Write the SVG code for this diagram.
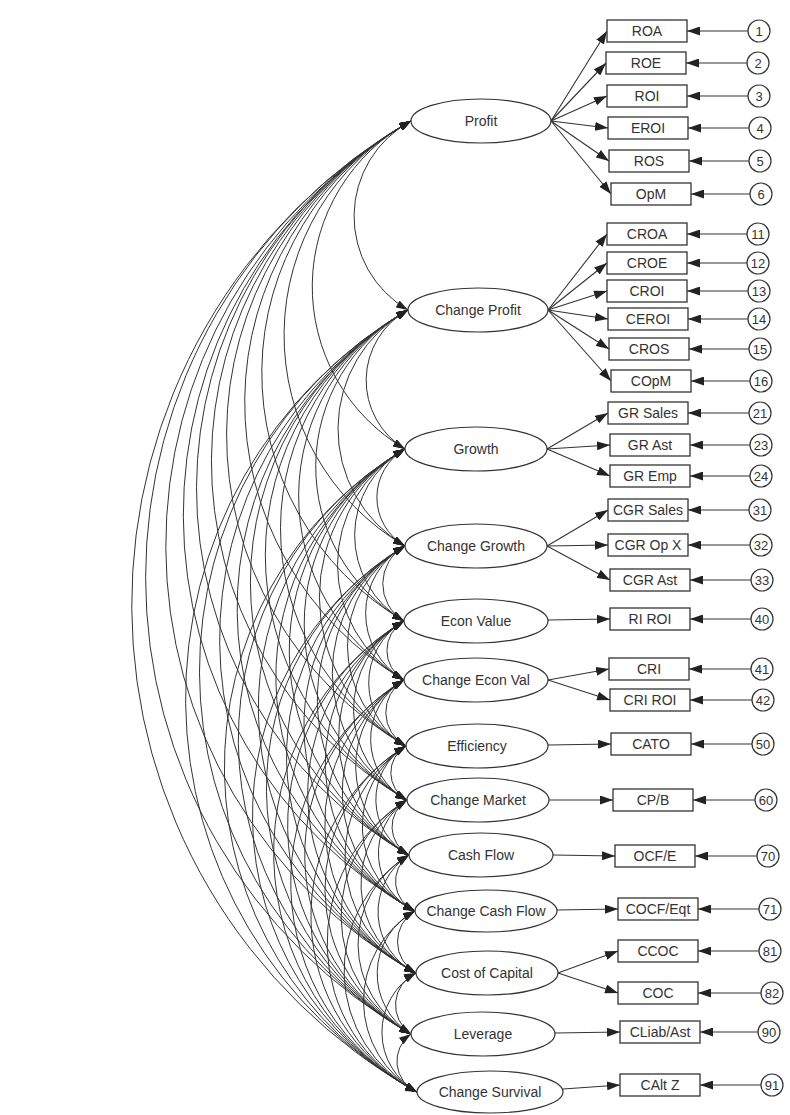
<svg xmlns="http://www.w3.org/2000/svg" width="790" height="1115" viewBox="0 0 790 1115">
<style>
.cov{fill:none;stroke:#333;stroke-width:1;marker-start:url(#ah);marker-end:url(#ah)}
.ld{fill:none;stroke:#333;stroke-width:1.1;marker-end:url(#am)}
.lat{fill:#fff;stroke:#333;stroke-width:1.2}
.obs{fill:#fff;stroke:#333;stroke-width:1.3}
.err{fill:#fff;stroke:#333;stroke-width:1.2}
text{font-family:"Liberation Sans",Arial,sans-serif;fill:#333;text-anchor:middle}
.t1{font-size:14px}
.t2{font-size:14px}
.t3{font-size:13px}
</style>
<defs>
<marker id="ah" viewBox="0 0 12 8" refX="12" refY="4" markerWidth="12" markerHeight="8" markerUnits="userSpaceOnUse" orient="auto-start-reverse"><path d="M0,0 L12,4 L0,8 z" fill="#222"/></marker>
<marker id="am" viewBox="0 0 13 9" refX="13" refY="4.5" markerWidth="13" markerHeight="9" markerUnits="userSpaceOnUse" orient="auto"><path d="M0,0 L13,4.5 L0,9 z" fill="#222"/></marker>
</defs>
<rect width="790" height="1115" fill="#fff"/>
<g id="connectors">
<g id="covariances">
<path class="cov" d="M411,121 A108.3,108.3 0 0 0 408,310"/>
<path class="cov" d="M411,121 A188.4,188.4 0 0 0 405,449"/>
<path class="cov" d="M411,121 A244.2,244.2 0 0 0 405,546"/>
<path class="cov" d="M411,121 A287.4,287.4 0 0 0 404,621"/>
<path class="cov" d="M411,121 A321.4,321.4 0 0 0 404,680"/>
<path class="cov" d="M411,121 A359.4,359.4 0 0 0 406,746"/>
<path class="cov" d="M411,121 A390.5,390.5 0 0 0 407,800"/>
<path class="cov" d="M411,121 A422.2,422.2 0 0 0 409,855"/>
<path class="cov" d="M411,121 A454.5,454.5 0 0 0 415,911"/>
<path class="cov" d="M411,121 A490.2,490.2 0 0 0 416,973"/>
<path class="cov" d="M411,121 A525.3,525.3 0 0 0 411,1034"/>
<path class="cov" d="M411,121 A558.7,558.7 0 0 0 417,1092"/>
<path class="cov" d="M408,310 A80.1,80.1 0 0 0 405,449"/>
<path class="cov" d="M408,310 A135.9,135.9 0 0 0 405,546"/>
<path class="cov" d="M408,310 A179.1,179.1 0 0 0 404,621"/>
<path class="cov" d="M408,310 A213.1,213.1 0 0 0 404,680"/>
<path class="cov" d="M408,310 A251.1,251.1 0 0 0 406,746"/>
<path class="cov" d="M408,310 A282.2,282.2 0 0 0 407,800"/>
<path class="cov" d="M408,310 A313.9,313.9 0 0 0 409,855"/>
<path class="cov" d="M408,310 A346.2,346.2 0 0 0 415,911"/>
<path class="cov" d="M408,310 A381.9,381.9 0 0 0 416,973"/>
<path class="cov" d="M408,310 A417.0,417.0 0 0 0 411,1034"/>
<path class="cov" d="M408,310 A450.4,450.4 0 0 0 417,1092"/>
<path class="cov" d="M405,449 A55.9,55.9 0 0 0 405,546"/>
<path class="cov" d="M405,449 A99.1,99.1 0 0 0 404,621"/>
<path class="cov" d="M405,449 A133.1,133.1 0 0 0 404,680"/>
<path class="cov" d="M405,449 A171.1,171.1 0 0 0 406,746"/>
<path class="cov" d="M405,449 A202.2,202.2 0 0 0 407,800"/>
<path class="cov" d="M405,449 A233.9,233.9 0 0 0 409,855"/>
<path class="cov" d="M405,449 A266.1,266.1 0 0 0 415,911"/>
<path class="cov" d="M405,449 A301.8,301.8 0 0 0 416,973"/>
<path class="cov" d="M405,449 A337.0,337.0 0 0 0 411,1034"/>
<path class="cov" d="M405,449 A370.4,370.4 0 0 0 417,1092"/>
<path class="cov" d="M405,546 A43.2,43.2 0 0 0 404,621"/>
<path class="cov" d="M405,546 A77.2,77.2 0 0 0 404,680"/>
<path class="cov" d="M405,546 A115.2,115.2 0 0 0 406,746"/>
<path class="cov" d="M405,546 A146.3,146.3 0 0 0 407,800"/>
<path class="cov" d="M405,546 A178.0,178.0 0 0 0 409,855"/>
<path class="cov" d="M405,546 A210.2,210.2 0 0 0 415,911"/>
<path class="cov" d="M405,546 A246.0,246.0 0 0 0 416,973"/>
<path class="cov" d="M405,546 A281.1,281.1 0 0 0 411,1034"/>
<path class="cov" d="M405,546 A314.5,314.5 0 0 0 417,1092"/>
<path class="cov" d="M404,621 A34.0,34.0 0 0 0 404,680"/>
<path class="cov" d="M404,621 A72.0,72.0 0 0 0 406,746"/>
<path class="cov" d="M404,621 A103.1,103.1 0 0 0 407,800"/>
<path class="cov" d="M404,621 A134.8,134.8 0 0 0 409,855"/>
<path class="cov" d="M404,621 A167.0,167.0 0 0 0 415,911"/>
<path class="cov" d="M404,621 A202.8,202.8 0 0 0 416,973"/>
<path class="cov" d="M404,621 A237.9,237.9 0 0 0 411,1034"/>
<path class="cov" d="M404,621 A271.3,271.3 0 0 0 417,1092"/>
<path class="cov" d="M404,680 A38.0,38.0 0 0 0 406,746"/>
<path class="cov" d="M404,680 A69.1,69.1 0 0 0 407,800"/>
<path class="cov" d="M404,680 A100.8,100.8 0 0 0 409,855"/>
<path class="cov" d="M404,680 A133.1,133.1 0 0 0 415,911"/>
<path class="cov" d="M404,680 A168.8,168.8 0 0 0 416,973"/>
<path class="cov" d="M404,680 A203.9,203.9 0 0 0 411,1034"/>
<path class="cov" d="M404,680 A237.3,237.3 0 0 0 417,1092"/>
<path class="cov" d="M406,746 A31.1,31.1 0 0 0 407,800"/>
<path class="cov" d="M406,746 A62.8,62.8 0 0 0 409,855"/>
<path class="cov" d="M406,746 A95.0,95.0 0 0 0 415,911"/>
<path class="cov" d="M406,746 A130.8,130.8 0 0 0 416,973"/>
<path class="cov" d="M406,746 A165.9,165.9 0 0 0 411,1034"/>
<path class="cov" d="M406,746 A199.3,199.3 0 0 0 417,1092"/>
<path class="cov" d="M407,800 A31.7,31.7 0 0 0 409,855"/>
<path class="cov" d="M407,800 A63.9,63.9 0 0 0 415,911"/>
<path class="cov" d="M407,800 A99.6,99.6 0 0 0 416,973"/>
<path class="cov" d="M407,800 A134.8,134.8 0 0 0 411,1034"/>
<path class="cov" d="M407,800 A168.2,168.2 0 0 0 417,1092"/>
<path class="cov" d="M409,855 A32.4,32.4 0 0 0 415,911"/>
<path class="cov" d="M409,855 A68.0,68.0 0 0 0 416,973"/>
<path class="cov" d="M409,855 A103.1,103.1 0 0 0 411,1034"/>
<path class="cov" d="M409,855 A136.5,136.5 0 0 0 417,1092"/>
<path class="cov" d="M415,911 A35.7,35.7 0 0 0 416,973"/>
<path class="cov" d="M415,911 A70.8,70.8 0 0 0 411,1034"/>
<path class="cov" d="M415,911 A104.3,104.3 0 0 0 417,1092"/>
<path class="cov" d="M416,973 A35.1,35.1 0 0 0 411,1034"/>
<path class="cov" d="M416,973 A68.5,68.5 0 0 0 417,1092"/>
<path class="cov" d="M411,1034 A33.5,33.5 0 0 0 417,1092"/>
</g>
<g id="loadings">
<path class="ld" d="M551,121 L607,31"/>
<path class="ld" d="M551,121 L606,63"/>
<path class="ld" d="M551,121 L607,96"/>
<path class="ld" d="M551,121 L608,128"/>
<path class="ld" d="M551,121 L609,161"/>
<path class="ld" d="M551,121 L611,194"/>
<path class="ld" d="M548,310 L607,234"/>
<path class="ld" d="M548,310 L607,263"/>
<path class="ld" d="M548,310 L607,291"/>
<path class="ld" d="M548,310 L608,319"/>
<path class="ld" d="M548,310 L609,349"/>
<path class="ld" d="M548,310 L611,381"/>
<path class="ld" d="M547,449 L608,413"/>
<path class="ld" d="M547,449 L610,445"/>
<path class="ld" d="M547,449 L610,476"/>
<path class="ld" d="M547,546 L608,510"/>
<path class="ld" d="M547,546 L608,545"/>
<path class="ld" d="M547,546 L610,580"/>
<path class="ld" d="M548,620 L610,619"/>
<path class="ld" d="M548,680 L609,669"/>
<path class="ld" d="M548,680 L610,700"/>
<path class="ld" d="M548,745 L611,744"/>
<path class="ld" d="M549,800 L613,800"/>
<path class="ld" d="M553,855 L615,856"/>
<path class="ld" d="M557,910 L618,909"/>
<path class="ld" d="M558,973 L618,951"/>
<path class="ld" d="M558,973 L618,993"/>
<path class="ld" d="M555,1033 L620,1032"/>
<path class="ld" d="M563,1089 L620,1085"/>
</g>
<g id="errors">
<path class="ld" d="M748,31 L687,31"/>
<path class="ld" d="M747,63 L686,63"/>
<path class="ld" d="M748,96 L687,96"/>
<path class="ld" d="M749,128 L688,128"/>
<path class="ld" d="M749,161 L689,161"/>
<path class="ld" d="M750,194 L691,194"/>
<path class="ld" d="M747,234 L687,234"/>
<path class="ld" d="M747,263 L687,263"/>
<path class="ld" d="M748,291 L687,291"/>
<path class="ld" d="M748,319 L688,319"/>
<path class="ld" d="M749,349 L689,349"/>
<path class="ld" d="M750,381 L691,381"/>
<path class="ld" d="M749,413 L688,413"/>
<path class="ld" d="M750,445 L690,445"/>
<path class="ld" d="M750,476 L690,476"/>
<path class="ld" d="M749,510 L688,510"/>
<path class="ld" d="M750,545 L688,545"/>
<path class="ld" d="M751,580 L690,580"/>
<path class="ld" d="M751,619 L690,619"/>
<path class="ld" d="M751,669 L689,669"/>
<path class="ld" d="M752,700 L690,700"/>
<path class="ld" d="M752,744 L691,744"/>
<path class="ld" d="M755,800 L693,800"/>
<path class="ld" d="M757,856 L695,856"/>
<path class="ld" d="M759,909 L698,909"/>
<path class="ld" d="M759,951 L698,951"/>
<path class="ld" d="M761,993 L698,993"/>
<path class="ld" d="M758,1032 L700,1032"/>
<path class="ld" d="M761,1085 L700,1085"/>
</g>
</g>
<g id="latent">
<g id="n-profit"><ellipse class="lat" cx="481" cy="121" rx="70" ry="22"/><text class="t1" x="481" y="126">Profit</text></g>
<g id="n-change-profit"><ellipse class="lat" cx="478" cy="310" rx="70" ry="22"/><text class="t1" x="478" y="315">Change Profit</text></g>
<g id="n-growth"><ellipse class="lat" cx="476" cy="449" rx="71" ry="22"/><text class="t1" x="476" y="454">Growth</text></g>
<g id="n-change-growth"><ellipse class="lat" cx="476" cy="546" rx="71" ry="22"/><text class="t1" x="476" y="551">Change Growth</text></g>
<g id="n-econ-value"><ellipse class="lat" cx="476" cy="621" rx="72" ry="22"/><text class="t1" x="476" y="626">Econ Value</text></g>
<g id="n-change-econ-val"><ellipse class="lat" cx="476" cy="680" rx="72" ry="22"/><text class="t1" x="476" y="685">Change Econ Val</text></g>
<g id="n-efficiency"><ellipse class="lat" cx="477" cy="746" rx="71" ry="22"/><text class="t1" x="477" y="751">Efficiency</text></g>
<g id="n-change-market"><ellipse class="lat" cx="478" cy="800" rx="71" ry="22"/><text class="t1" x="478" y="805">Change Market</text></g>
<g id="n-cash-flow"><ellipse class="lat" cx="481" cy="855" rx="72" ry="22"/><text class="t1" x="481" y="860">Cash Flow</text></g>
<g id="n-change-cash-flow"><ellipse class="lat" cx="486" cy="911" rx="71" ry="21"/><text class="t1" x="486" y="916">Change Cash Flow</text></g>
<g id="n-cost-of-capital"><ellipse class="lat" cx="487" cy="973" rx="71" ry="22"/><text class="t1" x="487" y="978">Cost of Capital</text></g>
<g id="n-leverage"><ellipse class="lat" cx="483" cy="1034" rx="72" ry="22"/><text class="t1" x="483" y="1039">Leverage</text></g>
<g id="n-change-survival"><ellipse class="lat" cx="490" cy="1092" rx="73" ry="21"/><text class="t1" x="490" y="1097">Change Survival</text></g>
</g>
<g id="observed">
<g id="b-roa"><rect class="obs" x="607" y="20" width="80" height="22"/><text class="t2" x="647" y="36">ROA</text></g>
<g id="b-roe"><rect class="obs" x="606" y="52" width="80" height="22"/><text class="t2" x="646" y="68">ROE</text></g>
<g id="b-roi"><rect class="obs" x="607" y="85" width="80" height="22"/><text class="t2" x="647" y="101">ROI</text></g>
<g id="b-eroi"><rect class="obs" x="608" y="117" width="80" height="22"/><text class="t2" x="648" y="133">EROI</text></g>
<g id="b-ros"><rect class="obs" x="609" y="150" width="80" height="22"/><text class="t2" x="649" y="166">ROS</text></g>
<g id="b-opm"><rect class="obs" x="611" y="183" width="80" height="22"/><text class="t2" x="651" y="199">OpM</text></g>
<g id="b-croa"><rect class="obs" x="607" y="223" width="80" height="22"/><text class="t2" x="647" y="239">CROA</text></g>
<g id="b-croe"><rect class="obs" x="607" y="252" width="80" height="22"/><text class="t2" x="647" y="268">CROE</text></g>
<g id="b-croi"><rect class="obs" x="607" y="280" width="80" height="22"/><text class="t2" x="647" y="296">CROI</text></g>
<g id="b-ceroi"><rect class="obs" x="608" y="308" width="80" height="22"/><text class="t2" x="648" y="324">CEROI</text></g>
<g id="b-cros"><rect class="obs" x="609" y="338" width="80" height="22"/><text class="t2" x="649" y="354">CROS</text></g>
<g id="b-copm"><rect class="obs" x="611" y="370" width="80" height="22"/><text class="t2" x="651" y="386">COpM</text></g>
<g id="b-gr-sales"><rect class="obs" x="608" y="402" width="80" height="22"/><text class="t2" x="648" y="418">GR Sales</text></g>
<g id="b-gr-ast"><rect class="obs" x="610" y="434" width="80" height="22"/><text class="t2" x="650" y="450">GR Ast</text></g>
<g id="b-gr-emp"><rect class="obs" x="610" y="465" width="80" height="22"/><text class="t2" x="650" y="481">GR Emp</text></g>
<g id="b-cgr-sales"><rect class="obs" x="608" y="499" width="80" height="22"/><text class="t2" x="648" y="515">CGR Sales</text></g>
<g id="b-cgr-opx"><rect class="obs" x="608" y="534" width="80" height="22"/><text class="t2" x="648" y="550">CGR Op X</text></g>
<g id="b-cgr-ast"><rect class="obs" x="610" y="569" width="80" height="22"/><text class="t2" x="650" y="585">CGR Ast</text></g>
<g id="b-ri-roi"><rect class="obs" x="610" y="608" width="80" height="22"/><text class="t2" x="650" y="624">RI ROI</text></g>
<g id="b-cri"><rect class="obs" x="609" y="658" width="80" height="22"/><text class="t2" x="649" y="674">CRI</text></g>
<g id="b-cri-roi"><rect class="obs" x="610" y="689" width="80" height="22"/><text class="t2" x="650" y="705">CRI ROI</text></g>
<g id="b-cato"><rect class="obs" x="611" y="733" width="80" height="22"/><text class="t2" x="651" y="749">CATO</text></g>
<g id="b-cpb"><rect class="obs" x="613" y="789" width="80" height="22"/><text class="t2" x="653" y="805">CP/B</text></g>
<g id="b-ocfe"><rect class="obs" x="615" y="845" width="80" height="22"/><text class="t2" x="655" y="861">OCF/E</text></g>
<g id="b-cocf"><rect class="obs" x="618" y="898" width="80" height="22"/><text class="t2" x="658" y="914">COCF/Eqt</text></g>
<g id="b-ccoc"><rect class="obs" x="618" y="940" width="80" height="22"/><text class="t2" x="658" y="956">CCOC</text></g>
<g id="b-coc"><rect class="obs" x="618" y="982" width="80" height="22"/><text class="t2" x="658" y="998">COC</text></g>
<g id="b-cliab"><rect class="obs" x="620" y="1021" width="80" height="22"/><text class="t2" x="660" y="1037">CLiab/Ast</text></g>
<g id="b-caltz"><rect class="obs" x="620" y="1074" width="80" height="22"/><text class="t2" x="660" y="1090">CAlt Z</text></g>
</g>
<g id="error-terms">
<g id="e1"><circle class="err" cx="759" cy="31" r="11"/><text class="t3" x="759" y="36">1</text></g>
<g id="e2"><circle class="err" cx="758" cy="63" r="11"/><text class="t3" x="758" y="68">2</text></g>
<g id="e3"><circle class="err" cx="759" cy="96" r="11"/><text class="t3" x="759" y="101">3</text></g>
<g id="e4"><circle class="err" cx="760" cy="128" r="11"/><text class="t3" x="760" y="133">4</text></g>
<g id="e5"><circle class="err" cx="760" cy="161" r="11"/><text class="t3" x="760" y="166">5</text></g>
<g id="e6"><circle class="err" cx="761" cy="194" r="11"/><text class="t3" x="761" y="199">6</text></g>
<g id="e11"><circle class="err" cx="758" cy="234" r="11"/><text class="t3" x="758" y="239">11</text></g>
<g id="e12"><circle class="err" cx="758" cy="263" r="11"/><text class="t3" x="758" y="268">12</text></g>
<g id="e13"><circle class="err" cx="759" cy="291" r="11"/><text class="t3" x="759" y="296">13</text></g>
<g id="e14"><circle class="err" cx="759" cy="319" r="11"/><text class="t3" x="759" y="324">14</text></g>
<g id="e15"><circle class="err" cx="760" cy="349" r="11"/><text class="t3" x="760" y="354">15</text></g>
<g id="e16"><circle class="err" cx="761" cy="381" r="11"/><text class="t3" x="761" y="386">16</text></g>
<g id="e21"><circle class="err" cx="760" cy="413" r="11"/><text class="t3" x="760" y="418">21</text></g>
<g id="e23"><circle class="err" cx="761" cy="445" r="11"/><text class="t3" x="761" y="450">23</text></g>
<g id="e24"><circle class="err" cx="761" cy="476" r="11"/><text class="t3" x="761" y="481">24</text></g>
<g id="e31"><circle class="err" cx="760" cy="510" r="11"/><text class="t3" x="760" y="515">31</text></g>
<g id="e32"><circle class="err" cx="761" cy="545" r="11"/><text class="t3" x="761" y="550">32</text></g>
<g id="e33"><circle class="err" cx="762" cy="580" r="11"/><text class="t3" x="762" y="585">33</text></g>
<g id="e40"><circle class="err" cx="762" cy="619" r="11"/><text class="t3" x="762" y="624">40</text></g>
<g id="e41"><circle class="err" cx="762" cy="669" r="11"/><text class="t3" x="762" y="674">41</text></g>
<g id="e42"><circle class="err" cx="763" cy="700" r="11"/><text class="t3" x="763" y="705">42</text></g>
<g id="e50"><circle class="err" cx="763" cy="744" r="11"/><text class="t3" x="763" y="749">50</text></g>
<g id="e60"><circle class="err" cx="766" cy="800" r="11"/><text class="t3" x="766" y="805">60</text></g>
<g id="e70"><circle class="err" cx="768" cy="856" r="11"/><text class="t3" x="768" y="861">70</text></g>
<g id="e71"><circle class="err" cx="770" cy="909" r="11"/><text class="t3" x="770" y="914">71</text></g>
<g id="e81"><circle class="err" cx="770" cy="951" r="11"/><text class="t3" x="770" y="956">81</text></g>
<g id="e82"><circle class="err" cx="772" cy="993" r="11"/><text class="t3" x="772" y="998">82</text></g>
<g id="e90"><circle class="err" cx="769" cy="1032" r="11"/><text class="t3" x="769" y="1037">90</text></g>
<g id="e91"><circle class="err" cx="772" cy="1085" r="11"/><text class="t3" x="772" y="1090">91</text></g>
</g>
</svg>
